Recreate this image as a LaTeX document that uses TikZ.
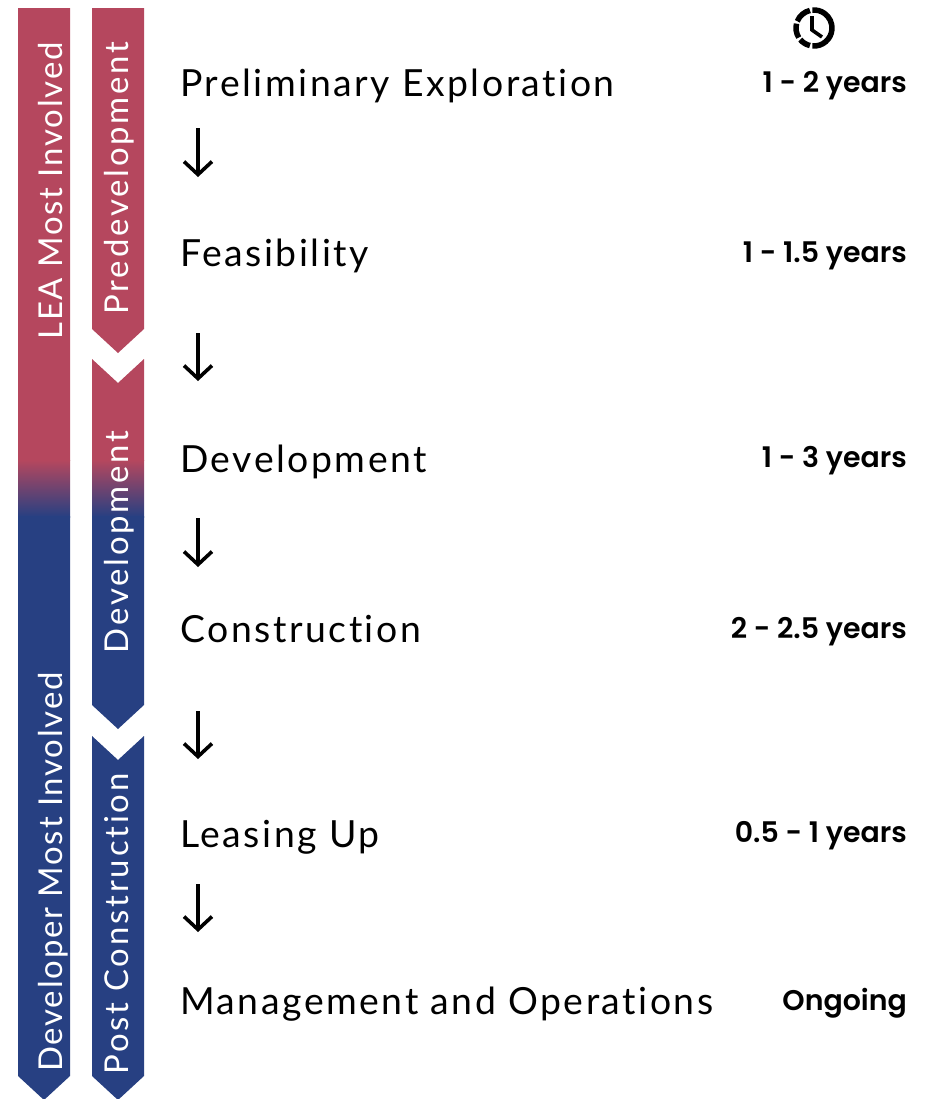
\documentclass[tikz,border=0pt]{standalone}
\usepackage{fontspec}
\setmainfont{Lato}[Ligatures=NoCommon]
\newfontfamily\durfont{Poppins}[BoldFont={Poppins SemiBold}]
\usetikzlibrary{arrows.meta}
\definecolor{leared}{RGB}{181,71,94}
\definecolor{devblue}{RGB}{39,64,130}
\def\barfill#1{\begin{scope}\clip #1;
	\fill[leared] (0,0) rectangle (928,461);
	\shade[top color=leared, bottom color=devblue] (0,460) rectangle (928,517);
	\fill[devblue] (0,516) rectangle (928,1110);\end{scope}}
\tikzset{
	stage/.style={anchor=base west, inner sep=0pt, font=\fontsize{37.5}{40}\selectfont\addfontfeatures{LetterSpace=6.8, Ligatures=NoCommon}},
	dur/.style={anchor=base east, inner sep=0pt, font=\durfont\bfseries\fontsize{28.5}{30}\selectfont},
	bartext/.style={anchor=base, rotate=90, inner sep=0pt, text=white, font=\fontsize{33}{36}\selectfont\addfontfeatures{LetterSpace=8.5, Ligatures=NoCommon}},
	sidetext/.style={bartext, font=\fontsize{33}{36}\selectfont\addfontfeatures{LetterSpace=5.5, Ligatures=NoCommon}},
	flow/.style={line width=3.6bp, -{Straight Barb[length=13bp, width=28bp]}}
}
\begin{document}
\begin{tikzpicture}[x=1bp, y=-1bp]
		%%%%% START %%%%%
		\useasboundingbox (0,0) rectangle (928,1099);
		
		% bars
		\barfill{(18,8) -- (70,8) -- (70,1076) -- (44,1100) -- (18,1076) -- cycle}
		\barfill{(92,8) -- (144,8) -- (144,329) -- (118,353) -- (92,329) -- cycle}
		\barfill{(92,359) -- (118,383) -- (144,359) -- (144,705) -- (118,729) -- (92,705) -- cycle}
		\barfill{(92,736) -- (118,760) -- (144,736) -- (144,1076) -- (118,1100) -- (92,1076) -- cycle}
		
		\node[sidetext] (lea) at (62, 191) {LEA Most Involved};
		\node[sidetext] (devinv) at (62, 872) {Developer Most Involved};
		\node[bartext] (predev) at (128, 178) {Predevelopment};
		\node[bartext] (dev) at (128, 542) {Development};
		\node[bartext] (post) at (128, 924) {Post Construction};
		
		% stages
		\node[stage] (explore) at (180, 96) {Preliminary Exploration};
		\node[stage] (feas) at (180, 266) {Feasibility};
		\node[stage] (devel) at (180, 472) {Development};
		\node[stage] (constr) at (180, 642) {Construction};
		\node[stage] (lease) at (180, 847) {Leasing Up};
		\node[stage] (manage) at (180, 1014) {Management and Operations};
		
		% durations
		\node[dur] (d1) at (907, 92) {1 - 2 years};
		\node[dur] (d2) at (907, 262) {1 - 1.5 years};
		\node[dur] (d3) at (907, 467) {1 - 3 years};
		\node[dur] (d4) at (907, 638) {2 - 2.5 years};
		\node[dur] (d5) at (907, 842) {0.5 - 1 years};
		\node[dur] (d6) at (907, 1010) {Ongoing};
		
		% arrows
		\coordinate (a1t) at (198, 128); \coordinate (a1b) at (198, 177);
		\coordinate (a2t) at (198, 333); \coordinate (a2b) at (198, 381);
		\coordinate (a3t) at (198, 518); \coordinate (a3b) at (198, 567);
		\coordinate (a4t) at (198, 711); \coordinate (a4b) at (198, 759);
		\coordinate (a5t) at (198, 884); \coordinate (a5b) at (198, 932);
		\draw[flow] (a1t) -- (a1b);
		\draw[flow] (a2t) -- (a2b);
		\draw[flow] (a3t) -- (a3b);
		\draw[flow] (a4t) -- (a4b);
		\draw[flow] (a5t) -- (a5b);
		
		% clock
		\begin{scope}[shift={(814, 28)}, y=1bp, line width=5.5bp]
			\draw (-95:18) arc (-95:95:18);
			\draw (103:18) arc (103:158:18);
			\draw (166:18) arc (166:212:18);
			\draw (220:18) arc (220:257:18);
			\draw[line width=3.6bp, line join=miter] (-2,12) -- (-2,-2) -- (8,-9);
		\end{scope}
		
		%%%%% END %%%%%
	\end{tikzpicture}
\end{document}
